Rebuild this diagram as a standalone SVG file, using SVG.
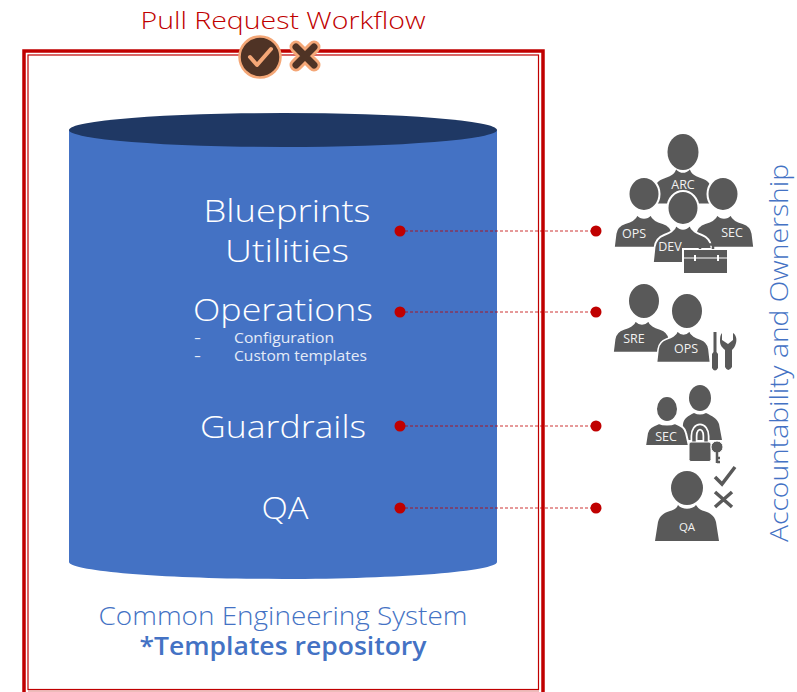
<svg xmlns="http://www.w3.org/2000/svg" width="797" height="692" viewBox="0 0 797 692">
<style>
text{font-family:"Open Sans","Noto Sans","Liberation Sans",sans-serif;font-weight:300}
.w{fill:#fff;text-anchor:middle;font-size:32px}
.s{fill:#e4ebf7;font-size:14.5px;font-weight:400}
.b{fill:#4472c4;text-anchor:middle}
.p{fill:#595959}
.h{stroke:#fff;stroke-width:2}
.l{fill:#f2f2f2;font-size:12.500px;font-weight:400;text-anchor:middle}
.c{stroke:#c00000;stroke-width:.8;stroke-dasharray:3 2;fill:none}
.d{fill:#c00000}
</style>
<defs>
<path id="body" d="M-35 34L-33 18C-32 11-28 8-22 6C-16 4-10 2-8-4C-3 1 3 1 8-4C10 2 16 4 22 6C28 8 32 11 33 18L35 34Z"/>
</defs>
<rect width="797" height="692" fill="#fff"/>
<g id="frame">
<rect x="24" y="51" width="519" height="645" fill="none" stroke="#c00000" stroke-width="3.500"/>
<rect x="28" y="55" width="510.500" height="634.500" fill="none" stroke="#c00000" stroke-width="1.200"/>
<path d="M28 691H539" stroke="#e8a5a5" stroke-width="1.500"/>
</g>
<g id="title"><text x="283" y="29" text-anchor="middle" font-size="24.500" fill="#c00000" textLength="285" lengthAdjust="spacingAndGlyphs">Pull Request Workflow</text></g>
<g id="pr-icons">
<circle cx="260" cy="57" r="20.500" fill="#4f3325" stroke="#f4a777" stroke-width="2.500"/>
<path d="M250 57L257 65L271 49" fill="none" stroke="#f4a777" stroke-width="4" stroke-linecap="round" stroke-linejoin="round"/>
<path d="M296 47L314 65M314 47L296 65" stroke="#f4a777" stroke-width="13" stroke-linecap="round"/>
<path d="M296 47L314 65M314 47L296 65" stroke="#4f3325" stroke-width="7" stroke-linecap="round"/>
</g>
<g id="repository">
<path d="M69 130V562C69 571 165 579 283 579S497 571 497 562V130Z" fill="#4472c4"/>
<ellipse cx="283" cy="130" rx="214" ry="17" fill="#1f3864"/>
<text class="w" x="287" y="222" textLength="167" lengthAdjust="spacingAndGlyphs">Blueprints</text>
<text class="w" x="287" y="262" textLength="124" lengthAdjust="spacingAndGlyphs">Utilities</text>
<text class="w" x="283" y="321" textLength="180" lengthAdjust="spacingAndGlyphs">Operations</text>
<text class="s" x="194" y="343" textLength="7" lengthAdjust="spacingAndGlyphs">-</text>
<text class="s" x="234" y="343" textLength="100" lengthAdjust="spacingAndGlyphs">Configuration</text>
<text class="s" x="194" y="361" textLength="7" lengthAdjust="spacingAndGlyphs">-</text>
<text class="s" x="234" y="361" textLength="133" lengthAdjust="spacingAndGlyphs">Custom templates</text>
<text class="w" x="283" y="438" textLength="166" lengthAdjust="spacingAndGlyphs">Guardrails</text>
<text class="w" x="285" y="519" textLength="47" lengthAdjust="spacingAndGlyphs">QA</text>
</g>
<g id="caption">
<text class="b" x="283" y="625" font-size="25" textLength="369" lengthAdjust="spacingAndGlyphs">Common Engineering System</text>
<text class="b" x="283" y="655" font-size="25" style="font-weight:600" textLength="287" lengthAdjust="spacingAndGlyphs">*Templates repository</text>
</g>
<g id="connectors">
<path class="c" d="M400 231H596M400 312H596M400 426H596M400 508H596"/>
<g class="d"><circle cx="400" cy="231" r="5.500"/><circle cx="596" cy="231" r="5.500"/><circle cx="400" cy="312" r="5.500"/><circle cx="596" cy="312" r="5.500"/><circle cx="400" cy="426" r="5.500"/><circle cx="596" cy="426" r="5.500"/><circle cx="400" cy="508" r="5.500"/><circle cx="596" cy="508" r="5.500"/></g>
</g>
<g id="team-architecture">
<g class="p">
<ellipse cx="683" cy="152" rx="15.500" ry="18"/>
<use href="#body" transform="translate(683 173) scale(.86 .9)"/>
</g>
<g class="p h">
<ellipse cx="644" cy="194" rx="15.500" ry="17"/>
<use href="#body" transform="translate(644 218) scale(.86 .87)"/>
<ellipse cx="723" cy="194" rx="15.500" ry="17"/>
<use href="#body" transform="translate(724 218) scale(.86 .87)"/>
<ellipse cx="683" cy="208" rx="15.500" ry="17"/>
<use href="#body" transform="translate(683 229) scale(.86 1)"/>
</g>
<text class="l" x="683" y="189">ARC</text>
<text class="l" x="634" y="238">OPS</text>
<text class="l" x="732" y="237">SEC</text>
<text class="l" x="670" y="251">DEV</text>
<rect x="683" y="249" width="45" height="25" fill="#595959" stroke="#fff" stroke-width="2"/>
<path d="M700 249V244.500H713V249" fill="none" stroke="#595959" stroke-width="2.500"/>
<path d="M683 258H728" stroke="#fff" stroke-width="1.200"/>
<path d="M695 255V261M718 255V261" stroke="#fff" stroke-width="2"/>
</g>
<g id="team-operations">
<g class="p h">
<ellipse cx="644" cy="301" rx="16" ry="18"/>
<use href="#body" transform="translate(642 324) scale(.83 .84)"/>
<ellipse cx="687" cy="311" rx="16" ry="18"/>
<use href="#body" transform="translate(683.500 334) scale(.77 .84)"/>
</g>
<text class="l" x="634" y="343">SRE</text>
<text class="l" x="686" y="353">OPS</text>
<path class="p" d="M713.500 332H716.500V352L718 354V368Q715 373 712 368V354L713.500 352Z"/>
<path class="p" d="M722 333V340L728 344L733 340V333C736 335 737 339 736 343C735 347 733 349 732 350V367Q728 373 725 367V350C723 348 720 346 720 341C720 338 720 335 722 333Z"/>
</g>
<g id="team-security">
<g class="p">
<ellipse cx="700" cy="398" rx="11" ry="13"/>
<path d="M682 440L683 424C684 418 688 416 694 413C698 415 702 415 706 413C712 416 717 418 719 424L722 440Z"/>
</g>
<g class="p h">
<ellipse cx="667" cy="409" rx="11" ry="13"/>
<path d="M645 446L647 433C648 428 652 426 659 423C663 425 671 425 675 423C682 426 685 428 686 433L689 446Z"/>
</g>
<text class="l" x="666" y="441">SEC</text>
<path d="M694 442V436C694 424 706 424 706 436V442" fill="none" stroke="#fff" stroke-width="7"/>
<path d="M694 442V436C694 424 706 424 706 436V442" fill="none" stroke="#595959" stroke-width="3.500"/>
<rect x="689" y="442" width="22" height="19.500" rx="2" fill="#595959" stroke="#fff" stroke-width="1"/>
<circle cx="717" cy="447" r="6" fill="#595959" stroke="#fff" stroke-width="1"/>
<path d="M717 452V463M717 458H720M717 462H720" stroke="#595959" stroke-width="2.500" fill="none"/>
</g>
<g id="team-qa">
<ellipse class="p" cx="687" cy="488" rx="16" ry="17"/>
<path class="p" d="M655 541L658 522C660 515 664 513 670 511C674 510 677 508 678 505C682 510 692 510 696 505C698 508 700 510 704 511C710 513 714 515 716 522L719 541Z"/>
<text class="l" x="687" y="531" style="font-size:11.500px">QA</text>
<path d="M715 477L722 484L735 467" fill="none" stroke="#595959" stroke-width="3.500"/>
<path d="M715 492L732 507M732 492L715 507" stroke="#595959" stroke-width="3.500"/>
</g>
<g id="ownership-label"><text transform="translate(788 353) rotate(-90)" text-anchor="middle" font-size="25" fill="#4472c4" textLength="378" lengthAdjust="spacingAndGlyphs">Accountability and Ownership</text></g>
</svg>
